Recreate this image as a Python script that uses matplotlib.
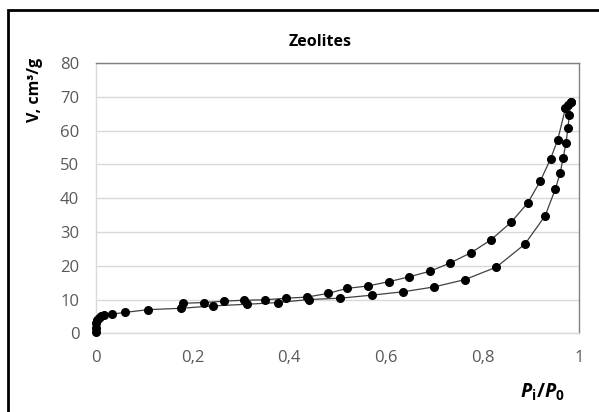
import matplotlib
matplotlib.use("Agg")
import matplotlib.pyplot as plt
from matplotlib.patches import Rectangle

plt.rcParams['font.family'] = ['Open Sans', 'DejaVu Sans']
plt.rcParams['mathtext.fontset'] = 'custom'
plt.rcParams['mathtext.rm'] = 'Open Sans'
plt.rcParams['mathtext.it'] = 'Open Sans:italic'
plt.rcParams['mathtext.bf'] = 'Open Sans:bold'
plt.rcParams['mathtext.bfit'] = 'Open Sans:italic:bold'

title = "Zeolites"
ylabel = "V, cm³/g"
xlabel = r"$\boldsymbol{P}_\mathbf{i}\mathbf{/}\boldsymbol{P}_\mathbf{0}$"

ads_x = [0, 0, 0, 0.002, 0.006, 0.011, 0.017, 0.034, 0.061, 0.108, 0.176, 0.242,
         0.313, 0.376, 0.441, 0.506, 0.572, 0.636, 0.699, 0.764, 0.829, 0.888,
         0.930, 0.951, 0.961, 0.967, 0.973, 0.977, 0.980, 0.983]
ads_y = [0.5, 1.6, 3.0, 4.0, 4.6, 5.0, 5.4, 5.7, 6.2, 7.0, 7.4, 8.1,
         8.6, 9.1, 10.0, 10.4, 11.3, 12.3, 13.7, 15.9, 19.6, 26.4,
         34.8, 42.7, 47.4, 51.8, 56.2, 60.7, 64.6, 68.6]

des_x = [0.983, 0.978, 0.972, 0.956, 0.941, 0.920, 0.894, 0.859, 0.818, 0.777,
         0.733, 0.692, 0.648, 0.607, 0.563, 0.520, 0.480, 0.436, 0.394, 0.350,
         0.307, 0.264, 0.224, 0.181]
des_y = [68.6, 67.6, 66.6, 57.3, 51.6, 45.1, 38.6, 32.8, 27.7, 23.9,
         20.8, 18.4, 16.7, 15.3, 14.0, 13.3, 11.8, 10.7, 10.4, 9.9,
         9.8, 9.5, 9.1, 8.9]

xticks = [0, 0.2, 0.4, 0.6, 0.8, 1.0]
xticklabels = ["0", "0,2", "0,4", "0,6", "0,8", "1"]
yticks = [0, 10, 20, 30, 40, 50, 60, 70, 80]

W, H = 599, 412
fig = plt.figure(figsize=(W / 100, H / 100), dpi=100)
ax = fig.add_axes([96 / W, 1 - 333.3 / H, (579 - 96) / W, (333.3 - 63) / H])

for xs, ys in [(ads_x, ads_y), (des_x, des_y)]:
    ax.plot(xs, ys, color='#404040', lw=0.9, zorder=3)
    ax.plot(xs, ys, ls='none', marker='o', ms=5.5, color='black', zorder=4, clip_on=False)

ax.set_xlim(0, 1)
ax.set_ylim(0, 80)
ax.set_xticks(xticks)
ax.set_xticklabels(xticklabels)
ax.set_yticks(yticks)
ax.tick_params(length=0, labelsize=12, labelcolor='#595959')
ax.tick_params(axis='x', pad=12)
ax.tick_params(axis='y', pad=12)
ax.yaxis.grid(True, color='#d9d9d9', lw=1)
ax.set_axisbelow(True)
for s in ['left', 'bottom']:
    ax.spines[s].set_color('#d9d9d9')
    ax.spines[s].set_linewidth(1)
for s in ['top', 'right']:
    ax.spines[s].set_color('#808080')
    ax.spines[s].set_linewidth(1)

fig.text(320 / W, 1 - 42 / H, title, ha='center', va='center', fontsize=11.5, fontweight='bold')
fig.text(35 / W, 1 - 90 / H, ylabel, ha='center', va='center', rotation=90,
         fontsize=11.5, fontweight='bold')
fig.text(543 / W, 1 - 391 / H, xlabel, ha='center', va='center', fontsize=14)

fig.patches.append(Rectangle((8 / W, -0.2), 1.5, 1 - 10 / H + 0.2, transform=fig.transFigure,
                             fill=False, edgecolor='black', lw=2, clip_on=False))

fig.savefig("out.png", dpi=100)
